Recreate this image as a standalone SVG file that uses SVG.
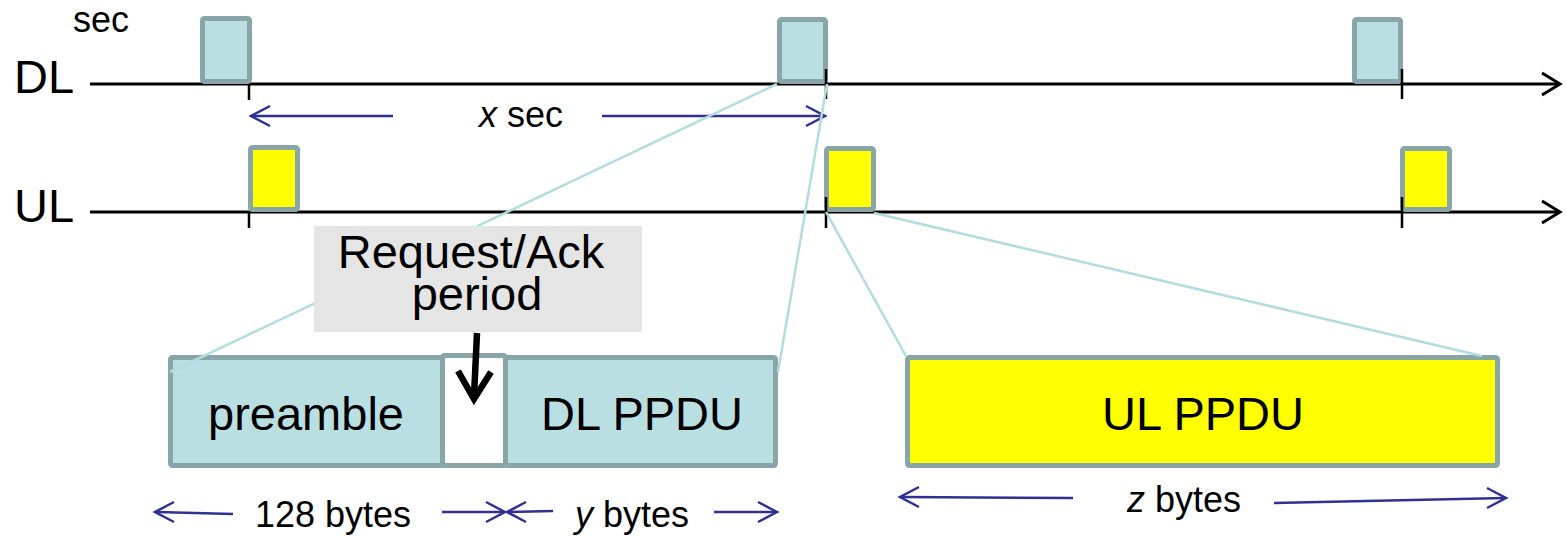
<svg xmlns="http://www.w3.org/2000/svg" width="1566" height="536" viewBox="0 0 1566 536">
<defs>
<style>
text{font-family:"Liberation Sans",Arial,sans-serif;fill:#000}
.big{font-size:47px}
.small{font-size:36px}
.axis{stroke:#000;stroke-width:3;fill:none}
.tick{stroke:#000;stroke-width:2.5}
.dl{fill:#B9DFE2;stroke:#8AA5A8;stroke-width:5}
.ul{fill:#FFFF00;stroke:#8AA5A8;stroke-width:5}
.conn{stroke:#B4DCE0;stroke-width:2.5;fill:none}
.dim{stroke:#2E3192;stroke-width:2.5;fill:none}
</style>
</defs>
<rect width="1566" height="536" fill="#fff"/>
<g id="labels">
<text class="small" x="73" y="32">sec</text>
<text class="big" x="14" y="93">DL</text>
<text class="big" x="14" y="222">UL</text>
</g>
<g id="axes">
<line class="axis" x1="90" y1="84" x2="1559" y2="84"/>
<polyline class="axis" points="1542,73 1560,84 1542,95"/>
<line class="axis" x1="90" y1="212" x2="1559" y2="212"/>
<polyline class="axis" points="1542,201 1560,212 1542,223"/>
</g>
<g id="dl-bursts">
<rect class="dl" x="202.5" y="18.5" width="47" height="63" rx="2"/>
<rect class="dl" x="779.5" y="19.5" width="46" height="62" rx="2"/>
<rect class="dl" x="1354.5" y="19.5" width="46" height="62" rx="2"/>
</g>
<g id="ul-bursts">
<rect class="ul" x="250.5" y="147.5" width="47" height="62" rx="2"/>
<rect class="ul" x="826.5" y="148.5" width="47" height="61" rx="2"/>
<rect class="ul" x="1402.5" y="148.5" width="47" height="61" rx="2"/>
</g>
<g id="ticks">
<line class="tick" x1="249" y1="84" x2="249" y2="100"/>
<line class="tick" x1="826" y1="69" x2="826" y2="99"/>
<line class="tick" x1="1402" y1="69" x2="1402" y2="99"/>
<line class="tick" x1="249" y1="212" x2="249" y2="228"/>
<line class="tick" x1="826" y1="197" x2="826" y2="228"/>
<line class="tick" x1="1402" y1="197" x2="1402" y2="228"/>
</g>
<g id="x-interval">
<line class="dim" x1="393" y1="116" x2="251" y2="116"/>
<polyline class="dim" points="270,106 251,116 270,126"/>
<line class="dim" x1="602" y1="116" x2="824" y2="116"/>
<polyline class="dim" points="806,106 825,116 806,126"/>
<text class="small" x="521" y="127" text-anchor="middle"><tspan font-style="italic">x</tspan> sec</text>
</g>
<g id="preamble">
<rect class="dl" x="170.5" y="357.5" width="272" height="108" rx="2"/>
<text class="big" x="306" y="430" text-anchor="middle">preamble</text>
</g>
<g id="gap">
<rect x="442.5" y="355.5" width="63" height="110" rx="2" fill="#fff" stroke="#8AA5A8" stroke-width="5"/>
</g>
<g id="dl-ppdu">
<rect class="dl" x="505.5" y="357.5" width="270" height="108" rx="2"/>
<text class="big" x="642" y="430" text-anchor="middle">DL PPDU</text>
</g>
<g id="ul-ppdu">
<rect class="ul" x="907.5" y="357.5" width="590" height="108" rx="2"/>
<text class="big" x="1203" y="430" text-anchor="middle">UL PPDU</text>
</g>
<g id="connectors">
<line class="conn" x1="777" y1="84" x2="170" y2="372"/>
<line class="conn" x1="827" y1="84" x2="778" y2="372"/>
<line class="conn" x1="826" y1="212" x2="906" y2="356"/>
<line class="conn" x1="874" y1="213" x2="1482" y2="356"/>
</g>
<g id="request-ack">
<rect x="314" y="226" width="328" height="106" fill="#E5E5E5"/>
<text class="big" text-anchor="middle"><tspan x="471" y="268">Request/Ack</tspan><tspan x="477" y="310">period</tspan></text>
<line x1="477" y1="333" x2="474" y2="396" stroke="#000" stroke-width="6.5"/>
<polyline points="458,371 474,399 491,372" fill="none" stroke="#000" stroke-width="6.5" stroke-linejoin="miter"/>
</g>
<g id="dims-bottom">
<line class="dim" x1="233" y1="514" x2="157" y2="512"/>
<polyline class="dim" points="174,502 155,512 174,522"/>
<line class="dim" x1="442" y1="512" x2="503" y2="512"/>
<polyline class="dim" points="486,502 505,512 486,522"/>
<text class="small" x="333" y="527" text-anchor="middle">128 bytes</text>
<line class="dim" x1="553" y1="511" x2="509" y2="512"/>
<polyline class="dim" points="526,502 507,512 526,522"/>
<line class="dim" x1="714" y1="512" x2="775" y2="512"/>
<polyline class="dim" points="758,502 777,512 758,522"/>
<text class="small" x="632" y="527" text-anchor="middle"><tspan font-style="italic">y</tspan> bytes</text>
<line class="dim" x1="1073" y1="498" x2="902" y2="497"/>
<polyline class="dim" points="919,487 900,497 919,507"/>
<line class="dim" x1="1274" y1="503" x2="1505" y2="498"/>
<polyline class="dim" points="1487,488 1506,498 1487,508"/>
<text class="small" x="1184" y="512" text-anchor="middle"><tspan font-style="italic">z</tspan> bytes</text>
</g>
</svg>
